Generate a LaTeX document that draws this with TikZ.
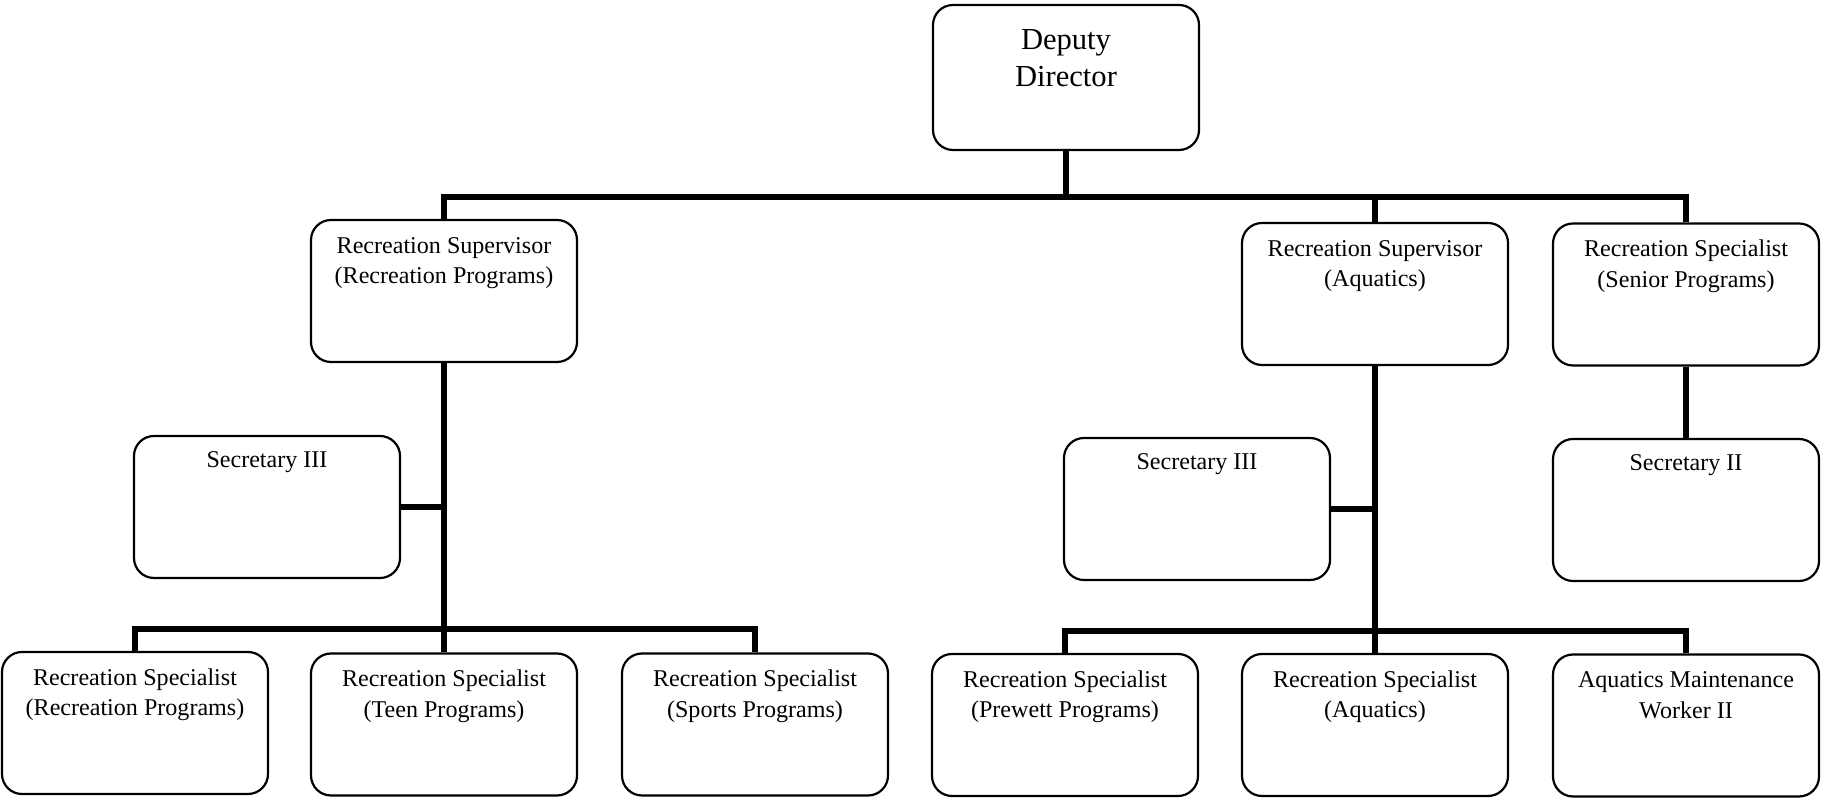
\documentclass[tikz,border=0pt]{standalone}
\usepackage{fontspec}
\setmainfont{Liberation Serif}
\begin{document}
\begin{tikzpicture}[
  post/.style={draw=black, line width=0.022cm, rounded corners=0.2cm,
    minimum width=2.66cm, minimum height=1.42cm, inner sep=0pt, align=center,
    text height=0.636cm, text depth=0.784cm,
    font=\fontsize{6.85pt}{8.6pt}\selectfont},
  oneline/.style={post, text height=0.32cm, text depth=1.10cm},
  head/.style={post, minimum height=1.45cm, text height=0.82cm, text depth=0.63cm,
    font=\fontsize{8.7pt}{10.6pt}\selectfont},
  conn/.style={line width=0.058cm, line join=miter}]
\fill[white] (0,0) rectangle (18.22,-8.01);
\useasboundingbox (0,0) rectangle (18.22,-8.01);

% top of the chart
\node[head] (dep) at (10.66,-0.775) {Deputy\\Director};

% second level
\node[post] (sup1)   at (4.44,-2.91)  {Recreation Supervisor\\(Recreation Programs)};
\node[post] (sup2)   at (13.75,-2.94) {Recreation Supervisor\\(Aquatics)};
\node[post] (senior) at (16.86,-2.945) {Recreation Specialist\\(Senior Programs)};

% secretaries
\node[oneline] (sec3l) at (2.67,-5.07)  {Secretary III};
\node[oneline] (sec3r) at (11.97,-5.09) {Secretary III};
\node[oneline] (sec2)  at (16.86,-5.10) {Secretary II};

% bottom level
\node[post] (b1) at (1.35,-7.23)  {Recreation Specialist\\(Recreation Programs)};
\node[post] (b2) at (4.44,-7.245) {Recreation Specialist\\(Teen Programs)};
\node[post] (b3) at (7.55,-7.245) {Recreation Specialist\\(Sports Programs)};
\node[post] (b4) at (10.65,-7.25) {Recreation Specialist\\(Prewett Programs)};
\node[post] (b5) at (13.75,-7.25) {Recreation Specialist\\(Aquatics)};
\node[post] (b6) at (16.86,-7.255) {Aquatics Maintenance\\Worker II};

% bus lines
\coordinate (topbus) at (0,-1.97);
\coordinate (lbus) at (0,-6.29);
\coordinate (rbus) at (0,-6.31);

\draw[conn] (dep.south) -- (dep.south |- topbus);
\draw[conn] (sup1.north) -- (sup1.north |- topbus) -- (senior.north |- topbus) -- (senior.north);
\draw[conn] (sup2.north) -- (sup2.north |- topbus);

% left branch
\draw[conn] (sup1.south) -- (b2.north);
\draw[conn] (sec3l.east) -- (sec3l.east -| sup1.south);
\draw[conn] (b1.north) -- (b1.north |- lbus) -- (b3.north |- lbus) -- (b3.north);

% right branch
\draw[conn] (sup2.south) -- (b5.north);
\draw[conn] (sec3r.east) -- (sec3r.east -| sup2.south);
\draw[conn] (b4.north) -- (b4.north |- rbus) -- (b6.north |- rbus) -- (b6.north);

% senior programs
\draw[conn] (senior.south) -- (sec2.north);
\end{tikzpicture}
\end{document}
